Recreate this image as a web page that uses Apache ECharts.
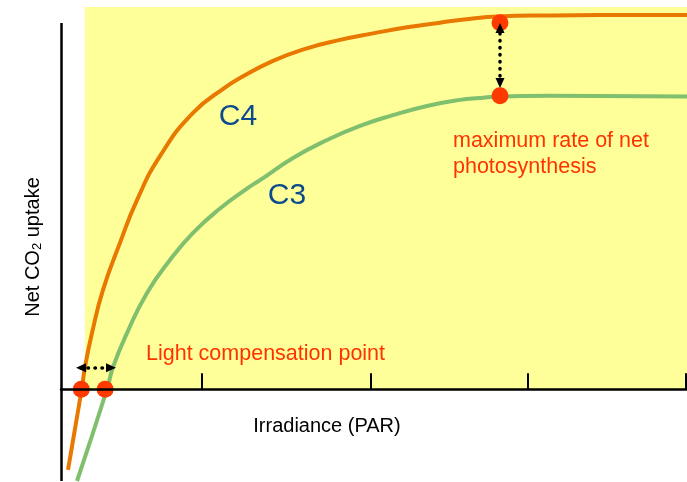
<!DOCTYPE html>
<html>
<head>
<meta charset="utf-8">
<script src="https://cdn.jsdelivr.net/npm/echarts@6/dist/echarts.min.js"></script>
<style>
  html, body { margin: 0; padding: 0; background: #ffffff; }
  #chart { width: 687px; height: 482px; }
</style>
</head>
<body>
<div id="chart"></div>
<script>
// Light-response curves: net CO2 uptake against irradiance (PAR, arbitrary units 0-1000)
const c4Curve = [
  [11.2, -21.1], [33.1, 0], [38.3, 5.8], [49.5, 14.7], [67.1, 26.0], [94.2, 38.3],
  [121.4, 49.5], [158.1, 61.0], [210.9, 72.3], [265.2, 79.3], [285.9, 81.4],
  [338.7, 85.9], [393.0, 89.2], [445.7, 91.4], [498.4, 93.1], [552.7, 94.7],
  [605.4, 95.9], [658.1, 97.0], [696.5, 97.5], [781.2, 97.8], [861.0, 97.9], [1000, 97.9]
];
const c3Curve = [
  [25.6, -24.0], [73.5, 0], [83.1, 5.8], [105.4, 14.7], [137.4, 25.2], [174.1, 33.8],
  [210.9, 40.9], [254.0, 47.3], [297.1, 52.5], [317.9, 54.7], [370.6, 60.5],
  [424.9, 65.2], [477.6, 68.9], [530.4, 71.7], [584.7, 74.1], [637.4, 75.7],
  [669.3, 76.2], [701.3, 76.6], [781.2, 76.8], [1000, 76.6]
];
// light compensation points (uptake = 0) and maximum-rate points
const compensationPoints = [[32.4, 0], [70.5, 0]];
const maxRatePoints = [[701.3, 95.9], [701.3, 76.8]];
// double-headed arrows between the two curves
const compensationArrow = [[31.9, 5.6], [79.9, 5.6]];
const maxRateArrow = [[701.3, 80.1], [701.3, 94.5]];
const irradianceTicks = [225, 495, 745, 998];
const uptakeAxisExtent = [-24, 95.8];
const lightRegionX = [38.3, 1000];
const lightRegionY = [0, 100];

const FONT = 'Liberation Sans, Arial, sans-serif';
const RED = '#ff3300';
const BLUE = '#0b4a8c';

const chart = echarts.init(document.getElementById('chart'), null, { renderer: 'canvas' });

chart.setOption({
  animation: false,
  backgroundColor: '#ffffff',
  grid: { left: 61, right: 0, top: 7, height: 474, containLabel: false },
  xAxis: {
    type: 'value', min: 0, max: 1000, z: 6,
    splitLine: { show: false },
    axisLabel: { show: false },
    axisLine: { show: true, onZero: true, lineStyle: { color: '#000', width: 2.5 } },
    axisTick: {
      show: true, inside: true, length: 16,
      customValues: irradianceTicks,
      lineStyle: { color: '#000', width: 2 }
    }
  },
  yAxis: {
    type: 'value', min: -24, max: 100,
    splitLine: { show: false },
    axisLabel: { show: false },
    axisTick: { show: false },
    axisLine: { show: false }
  },
  series: [
    {
      name: 'light region', type: 'line', data: [], z: 1, silent: true,
      markArea: {
        silent: true,
        itemStyle: { color: '#ffff99', opacity: 1 },
        data: [[
          { coord: [lightRegionX[0], lightRegionY[0]] },
          { coord: [lightRegionX[1], lightRegionY[1]] }
        ]]
      }
    },
    {
      name: 'C4', type: 'line', data: c4Curve, z: 3,
      smooth: 0.5, showSymbol: false, silent: true,
      lineStyle: { color: '#e87800', width: 4 }
    },
    {
      name: 'C3', type: 'line', data: c3Curve, z: 3,
      smooth: 0.5, showSymbol: false, silent: true,
      lineStyle: { color: '#7fbf6e', width: 4 }
    },
    {
      name: 'points', type: 'scatter', z: 4, clip: false, silent: true,
      data: compensationPoints.concat(maxRatePoints),
      symbolSize: 17,
      itemStyle: { color: '#ff3a00', opacity: 1 }
    },
    {
      name: 'uptake axis', type: 'line', data: [], z: 6, clip: false, silent: true,
      markLine: {
        silent: true, symbol: 'none', animation: false,
        label: { show: false },
        lineStyle: { color: '#000', width: 2.5, type: 'solid' },
        data: [[
          { coord: [0, uptakeAxisExtent[0]] },
          { coord: [0, uptakeAxisExtent[1]] }
        ]]
      }
    },
    {
      name: 'arrows', type: 'line', data: [], z: 7, clip: false, silent: true,
      markLine: {
        silent: true, animation: false,
        symbol: ['triangle', 'triangle'],
        symbolSize: [9, 10],
        label: { show: false },
        itemStyle: { color: '#000' },
        lineStyle: { color: '#000', width: 3.5, type: [0.5, 6.5], cap: 'round' },
        data: [
          [{ coord: compensationArrow[0] }, { coord: compensationArrow[1] }],
          [{ coord: maxRateArrow[0] }, { coord: maxRateArrow[1] }]
        ]
      }
    }
  ],
  graphic: [
    { type: 'text', x: 238, y: 117, z: 10, silent: true,
      style: { text: 'C4', fill: BLUE, fontSize: 30, fontFamily: FONT, align: 'center', verticalAlign: 'middle' } },
    { type: 'text', x: 287, y: 196, z: 10, silent: true,
      style: { text: 'C3', fill: BLUE, fontSize: 30, fontFamily: FONT, align: 'center', verticalAlign: 'middle' } },
    { type: 'text', x: 453, y: 141.5, z: 10, silent: true,
      style: { text: 'maximum rate of net', fill: RED, fontSize: 21.5, fontFamily: FONT, align: 'left', verticalAlign: 'middle' } },
    { type: 'text', x: 453, y: 167.5, z: 10, silent: true,
      style: { text: 'photosynthesis', fill: RED, fontSize: 21.5, fontFamily: FONT, align: 'left', verticalAlign: 'middle' } },
    { type: 'text', x: 146, y: 354, z: 10, silent: true,
      style: { text: 'Light compensation point', fill: RED, fontSize: 21.5, fontFamily: FONT, align: 'left', verticalAlign: 'middle' } },
    { type: 'text', x: 327, y: 426.5, z: 10, silent: true,
      style: { text: 'Irradiance (PAR)', fill: '#000', fontSize: 20, fontFamily: FONT, align: 'center', verticalAlign: 'middle' } },
    { type: 'text', x: 33, y: 247, z: 10, silent: true, rotation: Math.PI / 2,
      style: {
        text: 'Net CO{s|2} uptake', fill: '#000', fontSize: 20, lineHeight: 22, fontFamily: FONT,
        align: 'center', verticalAlign: 'middle',
        rich: { s: { fontSize: 13, lineHeight: 8, verticalAlign: 'bottom', fill: '#000', fontFamily: FONT } }
      } }
  ]
});
</script>
</body>
</html>
